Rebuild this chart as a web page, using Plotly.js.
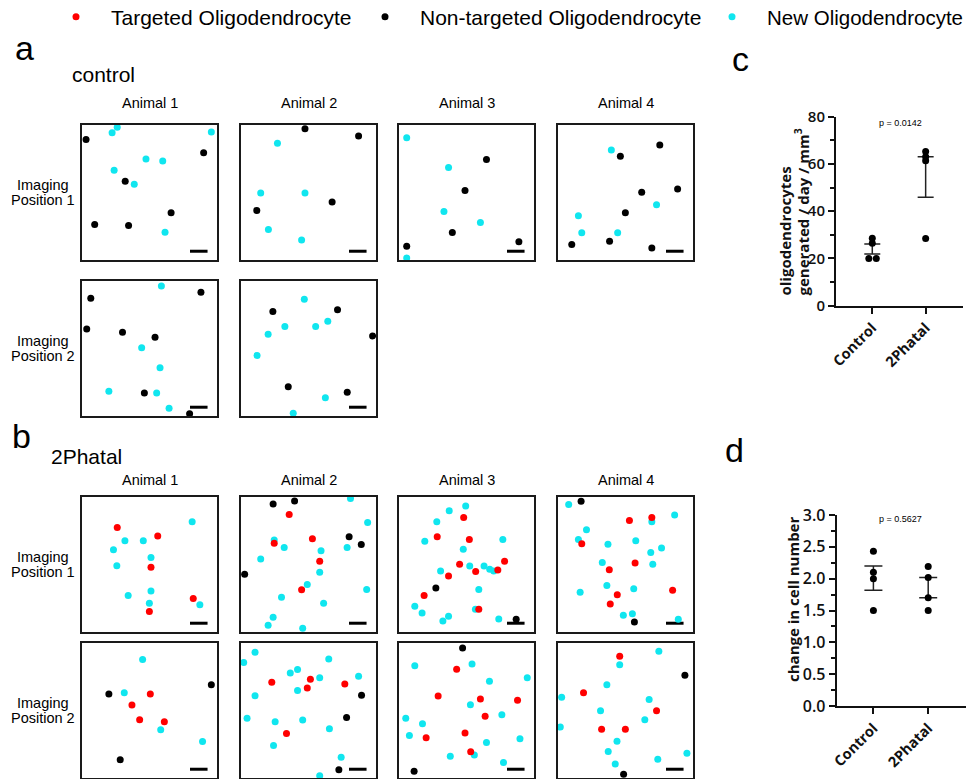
<!DOCTYPE html>
<html><head><meta charset="utf-8">
<script src="https://cdn.plot.ly/plotly-3.0.1.min.js"></script>
<style>html,body{margin:0;padding:0;background:#fff}#chart{width:968px;height:779px}</style>
</head><body><div id="chart"></div>
<script>
// ---------- DATA (positions in each imaging field, 0-100, y measured from top) ----------
// control
const ctrl_a1_p1_non = [[3.0,10.7],[90.1,20.6],[32.0,41.7],[66.0,65.0],[9.4,73.7],[34.5,74.4]];
const ctrl_a1_p1_new = [[26.1,1.7],[22.3,5.7],[95.8,5.2],[47.4,25.1],[59.8,26.6],[23.8,33.5],[38.7,43.9],[61.5,79.4]];
const ctrl_a2_p1_non = [[47.4,2.7],[87.1,8.2],[67.5,57.1],[11.7,63.3]];
const ctrl_a2_p1_new = [[27.0,13.6],[14.6,50.4],[47.4,50.4],[20.3,77.4],[44.9,85.1]];
const ctrl_a3_p1_non = [[64.8,25.6],[48.9,48.6],[39.5,79.7],[5.7,89.8],[88.8,86.4]];
const ctrl_a3_p1_new = [[5.7,9.4],[36.7,31.5],[33.3,64.0],[60.3,72.2],[5.7,98.5]];
const ctrl_a4_p1_non = [[75.4,14.9],[46.2,23.1],[88.6,47.4],[62.0,49.9],[49.9,65.0],[10.2,88.6],[38.2,86.1],[69.5,91.1]];
const ctrl_a4_p1_new = [[39.5,18.6],[73.0,59.1],[15.1,67.2],[17.6,79.9],[44.2,79.9]];
const ctrl_a1_p2_non = [[6.5,12.7],[88.1,8.4],[3.5,35.5],[30.0,38.0],[54.1,41.7],[46.2,82.9],[79.7,98.3]];
const ctrl_a1_p2_new = [[58.8,3.7],[44.2,49.4],[57.8,64.3],[19.9,81.6],[55.3,82.9],[64.5,94.3]];
const ctrl_a2_p2_non = [[23.6,22.6],[71.5,21.3],[97.5,40.7],[35.0,78.4],[78.7,82.4]];
const ctrl_a2_p2_new = [[46.9,13.6],[32.5,33.7],[55.3,33.7],[64.3,29.8],[20.1,39.5],[11.9,55.1],[62.5,86.4],[38.7,98.0]];
// 2Phatal
const ph_a1_p1_tgt = [[26.1,22.6],[56.1,28.8],[51.1,52.1],[82.4,75.2],[49.9,84.9]];
const ph_a1_p1_non = [];
const ph_a1_p1_new = [[81.6,18.4],[31.8,32.5],[45.4,32.5],[23.3,39.0],[51.1,44.9],[25.8,50.9],[51.1,69.7],[34.2,72.9],[49.9,78.7],[87.3,79.9]];
const ph_a2_p1_tgt = [[35.7,12.9],[52.9,31.0],[24.6,34.2],[58.3,47.6],[44.9,68.7]];
const ph_a2_p1_non = [[23.8,5.2],[39.7,3.0],[80.1,29.5],[89.1,35.2],[2.7,57.3]];
const ph_a2_p1_new = [[81.1,1.2],[93.8,18.9],[24.6,31.8],[32.0,37.5],[59.3,39.9],[78.6,37.5],[14.6,45.9],[58.3,55.8],[49.1,64.8],[93.1,68.5],[30.0,74.2],[61.2,78.7],[23.8,89.1],[20.1,95.0],[45.7,97.3]];
const ph_a3_p1_tgt = [[47.9,15.1],[28.3,29.5],[52.1,31.5],[44.9,49.9],[78.2,47.6],[36.7,58.6],[56.8,55.1],[73.2,54.1],[18.6,73.0],[59.1,83.1]];
const ph_a3_p1_non = [[27.3,67.5],[86.8,90.6]];
const ph_a3_p1_new = [[49.4,6.7],[37.2,10.2],[28.0,18.4],[19.1,32.8],[76.9,31.5],[47.6,38.7],[52.4,51.1],[63.0,51.1],[67.2,53.6],[70.2,54.8],[30.8,54.8],[59.1,68.5],[11.7,80.9],[17.1,85.9],[36.7,88.3],[32.5,91.8],[56.6,83.1],[73.9,90.3]];
const ph_a4_p1_tgt = [[52.9,17.4],[69.5,15.1],[17.6,34.7],[57.1,48.9],[38.0,53.8],[84.9,69.0],[43.9,72.5],[38.7,79.2]];
const ph_a4_p1_non = [[17.1,3.2],[56.6,92.6]];
const ph_a4_p1_new = [[7.9,5.5],[86.4,13.4],[69.5,18.4],[21.1,24.3],[15.1,31.5],[37.0,35.0],[57.6,32.5],[68.7,41.2],[76.7,37.7],[32.8,48.6],[70.2,49.9],[36.2,65.5],[16.4,70.5],[56.1,68.0],[48.4,87.6],[55.1,86.4],[89.1,90.6]];
const ph_a1_p2_tgt = [[50.6,37.7],[37.0,45.9],[42.7,56.8],[61.0,58.3]];
const ph_a1_p2_non = [[19.9,37.7],[95.8,31.0],[28.3,86.4]];
const ph_a1_p2_new = [[44.9,12.2],[31.3,36.9],[58.3,64.3],[89.3,73.0]];
const ph_a2_p2_tgt = [[22.8,29.0],[51.4,26.8],[49.1,33.3],[76.9,30.3],[33.7,67.0]];
const ph_a2_p2_non = [[89.3,38.7],[78.2,55.1],[72.5,93.8]];
const ph_a2_p2_new = [[10.4,6.9],[2.0,14.4],[65.0,11.9],[41.9,19.6],[36.5,22.3],[58.3,25.8],[87.1,24.6],[41.9,35.2],[10.4,39.0],[4.5,55.8],[25.3,58.3],[45.7,57.1],[65.5,63.5],[24.1,75.9],[74.2,84.6],[58.3,98.3]];
const ph_a3_p2_tgt = [[42.7,19.4],[29.0,39.2],[60.3,41.4],[87.8,42.4],[63.8,54.3],[48.9,66.7],[20.1,70.2],[53.1,80.6]];
const ph_a3_p2_non = [[47.1,3.7],[11.2,95.0]];
const ph_a3_p2_new = [[11.7,16.9],[54.1,15.6],[67.0,28.3],[95.0,25.8],[52.9,45.7],[76.2,53.1],[5.0,55.8],[17.4,59.8],[7.7,68.5],[64.8,73.7],[89.6,71.0],[38.0,83.9],[55.8,82.9],[77.4,88.6]];
const ph_a4_p2_tgt = [[45.7,9.9],[18.9,36.9],[73.0,50.1],[32.3,63.8],[49.9,63.8]];
const ph_a4_p2_non = [[94.0,23.8],[48.6,97.3]];
const ph_a4_p2_new = [[74.7,6.2],[45.7,16.1],[36.2,31.0],[2.7,40.2],[67.5,41.9],[31.5,50.1],[64.3,56.8],[1.7,62.3],[43.7,72.7],[37.2,80.4],[42.4,89.6],[73.9,86.1],[95.5,81.6]];

// panel c: oligodendrocytes generated / day / mm3
const groups = ['Control', '2Phatal'];
const cControl = [28.5, 26.4, 20.0, 20.0];
const cControlJitter = [0, 0, -0.065, 0.075];
const c2Phatal = [65.3, 63.0, 61.4, 28.4];
const c2PhatalJitter = [0, 0, 0, 0];
const cMean = [24.0, 54.5];
const cSem = [2.1, 8.6];
const cP = 'p = 0.0142';
const cTitle = ['oligodendrocytes', 'generated / day / mm<sup>3</sup>'];
// panel d: change in cell number
const dControl = [2.43, 2.10, 2.00, 1.50];
const d2Phatal = [2.19, 2.02, 1.70, 1.50];
const dMean = [2.01, 1.86];
const dSem = [0.19, 0.16];
const dP = 'p = 0.5627';
const dTitle = 'change in cell number';

const legendNames = ['Targeted Oligodendrocyte', 'Non-targeted Oligodendrocyte', 'New Oligodendrocyte'];
const animalLabels = ['Animal 1', 'Animal 2', 'Animal 3', 'Animal 4'];

// ---------- LAYOUT ----------
const W = 968, H = 779;
const COLORS = {tgt: '#ff0000', non: '#000000', new: '#10e6ef'};
const colLeft = [82, 241, 399, 558];
const rowTop = [125, 281, 497, 643];
const PANEL = 135;
const SCALEBAR = {x0: 80, x1: 93, y: 93.5};
const ARIAL = 'Liberation Sans, Arial, sans-serif';
const SANS = 'Open Sans, Noto Sans, sans-serif';

const panels = [
  {col:0,row:0,tgt:[],non:ctrl_a1_p1_non,nw:ctrl_a1_p1_new},
  {col:1,row:0,tgt:[],non:ctrl_a2_p1_non,nw:ctrl_a2_p1_new},
  {col:2,row:0,tgt:[],non:ctrl_a3_p1_non,nw:ctrl_a3_p1_new},
  {col:3,row:0,tgt:[],non:ctrl_a4_p1_non,nw:ctrl_a4_p1_new},
  {col:0,row:1,tgt:[],non:ctrl_a1_p2_non,nw:ctrl_a1_p2_new},
  {col:1,row:1,tgt:[],non:ctrl_a2_p2_non,nw:ctrl_a2_p2_new},
  {col:0,row:2,tgt:ph_a1_p1_tgt,non:ph_a1_p1_non,nw:ph_a1_p1_new},
  {col:1,row:2,tgt:ph_a2_p1_tgt,non:ph_a2_p1_non,nw:ph_a2_p1_new},
  {col:2,row:2,tgt:ph_a3_p1_tgt,non:ph_a3_p1_non,nw:ph_a3_p1_new},
  {col:3,row:2,tgt:ph_a4_p1_tgt,non:ph_a4_p1_non,nw:ph_a4_p1_new},
  {col:0,row:3,tgt:ph_a1_p2_tgt,non:ph_a1_p2_non,nw:ph_a1_p2_new},
  {col:1,row:3,tgt:ph_a2_p2_tgt,non:ph_a2_p2_non,nw:ph_a2_p2_new},
  {col:2,row:3,tgt:ph_a3_p2_tgt,non:ph_a3_p2_non,nw:ph_a3_p2_new},
  {col:3,row:3,tgt:ph_a4_p2_tgt,non:ph_a4_p2_non,nw:ph_a4_p2_new}
];

const traces = [];
const layout = {
  width: W, height: H, margin: {l:0, r:0, t:0, b:0, pad: 0, autoexpand: false},
  paper_bgcolor: '#fff', plot_bgcolor: '#fff',
  font: {family: ARIAL, color: '#000'},
  annotations: [], shapes: []
};
const xd = (a, b) => [a / W, b / W];
const yd = (top, bot) => [1 - bot / H, 1 - top / H];
let legendShown = {tgt:false, non:false, nw:false};
const legendOf = {tgt: 'legend', non: 'legend2', nw: 'legend3'};
const nameOf = {tgt: legendNames[0], non: legendNames[1], nw: legendNames[2]};
const colorOf = {tgt: COLORS.tgt, non: COLORS.non, nw: COLORS.new};

panels.forEach((p, i) => {
  const n = i + 1, sfx = n === 1 ? '' : String(n);
  const left = colLeft[p.col], top = rowTop[p.row];
  const axBase = {showline: true, mirror: true, linewidth: 1.8, linecolor: '#1a1a1a',
    showgrid: false, zeroline: false, showticklabels: false, ticks: '', fixedrange: true};
  layout['xaxis' + sfx] = Object.assign({}, axBase, {domain: xd(left, left + PANEL), range: [0, 100], anchor: 'y' + sfx});
  layout['yaxis' + sfx] = Object.assign({}, axBase, {domain: yd(top, top + PANEL), range: [100, 0], anchor: 'x' + sfx});
  ['nw', 'non', 'tgt'].forEach(k => {
    const pts = p[k];
    if (!pts.length) return;
    const show = !legendShown[k];
    legendShown[k] = true;
    traces.push({
      type: 'scatter', mode: 'markers', x: pts.map(q => q[0]), y: pts.map(q => q[1]),
      xaxis: 'x' + sfx, yaxis: 'y' + sfx, name: nameOf[k], legend: legendOf[k],
      legendgroup: k, showlegend: show, hoverinfo: 'skip',
      marker: {color: colorOf[k], size: 7, line: {width: 0}}
    });
  });
  layout.shapes.push({type: 'line', xref: 'x' + sfx, yref: 'y' + sfx, layer: 'below',
    x0: SCALEBAR.x0, x1: SCALEBAR.x1, y0: SCALEBAR.y, y1: SCALEBAR.y, line: {color: '#000', width: 3}});
});

// legends
const legBase = {orientation: 'h', xanchor: 'left', yanchor: 'middle', y: 1 - 17 / H,
  font: {family: ARIAL, size: 21, color: '#000'}, itemwidth: 60, bgcolor: 'rgba(0,0,0,0)', borderwidth: 0};
layout.legend = Object.assign({}, legBase, {x: 41 / W});
layout.legend2 = Object.assign({}, legBase, {x: 350 / W});
layout.legend3 = Object.assign({}, legBase, {x: 697 / W, font: {family: ARIAL, size: 20.5, color: '#000'}});

// ---------- panel c & d ----------
function statPanel(idx, xDom, yDom, xRange, yRange, dtick, minorDtick, tickFmt, tickSize, ctrl, ctrlJit, ph, phJit, mean, sem, capW) {
  const sfx = String(idx);
  traces.push({type: 'scatter', mode: 'markers', xaxis: 'x' + sfx, yaxis: 'y' + sfx, showlegend: false, hoverinfo: 'skip',
    x: groups.map((g, i) => i), y: mean, marker: {size: 1, color: 'rgba(0,0,0,0)'},
    error_y: {type: 'data', array: sem, visible: true, color: '#222', thickness: 1.5, width: capW}, cliponaxis: false});
  traces.push({type: 'scatter', mode: 'markers', xaxis: 'x' + sfx, yaxis: 'y' + sfx, showlegend: false, hoverinfo: 'skip',
    x: ctrlJit.map(j => 0 + j), y: ctrl, marker: {size: 7, color: '#000'}, cliponaxis: false});
  traces.push({type: 'scatter', mode: 'markers', xaxis: 'x' + sfx, yaxis: 'y' + sfx, showlegend: false, hoverinfo: 'skip',
    x: phJit.map(j => 1 + j), y: ph, marker: {size: 7, color: '#000'}, cliponaxis: false});
  layout['xaxis' + sfx] = {domain: xDom, range: xRange, anchor: 'y' + sfx, tickvals: [0, 1], ticktext: groups,
    tickangle: -45, ticks: 'outside', ticklen: 6, tickwidth: 2, tickcolor: '#111', showline: true, linewidth: 2, linecolor: '#111',
    showgrid: false, zeroline: false, fixedrange: true,
    tickfont: {family: SANS, size: 14.5, weight: 700, color: '#111'}};
  layout['yaxis' + sfx] = {domain: yDom, range: yRange, anchor: 'x' + sfx, dtick: dtick, tick0: 0, tickformat: tickFmt,
    ticks: 'outside', ticklen: 6, tickwidth: 2, tickcolor: '#111', showline: true, linewidth: 2, linecolor: '#111',
    minor: {dtick: minorDtick, ticks: 'outside', ticklen: 4, tickwidth: 2, tickcolor: '#111', showgrid: false},
    showgrid: false, zeroline: false, fixedrange: true,
    tickfont: {family: SANS, size: tickSize, weight: 600, color: '#111'}};
}
statPanel(17, xd(836, 963), yd(116.7, 305.7), [-0.68, 1.7], [0, 80], 20, 10, 'd', 15,
  cControl, cControlJitter, c2Phatal, c2PhatalJitter, cMean, cSem, 8);
statPanel(18, xd(836.7, 966), yd(515, 706), [-0.67, 1.69], [0, 3], 0.5, 0.25, '.1f', 16,
  dControl, [0, 0, 0, 0], d2Phatal, [0, 0, 0, 0], dMean, dSem, 9);

// ---------- annotations ----------
function ann(text, x, y, size, xanchor, extra) {
  layout.annotations.push(Object.assign({text: text, x: x / W, y: 1 - y / H, xref: 'paper', yref: 'paper',
    showarrow: false, xanchor: xanchor || 'left', yanchor: 'middle',
    font: {family: ARIAL, size: size, color: '#000'}}, extra || {}));
}
ann('a', 13, 48, 34);
ann('b', 10, 436, 34);
ann('c', 730, 59, 34);
ann('d', 723, 450, 34);
ann('control', 70, 74.5, 21);
ann('2Phatal', 49, 456, 21);
colLeft.forEach((l, i) => {
  ann(animalLabels[i], l + PANEL / 2, 103, 14.5, 'center');
  ann(animalLabels[i], l + PANEL / 2, 480, 14.5, 'center');
});
[[185, 200, '1'], [341, 356, '2'], [557, 572, '1'], [703, 718, '2']].forEach(r => {
  ann('Imaging', 43, r[0], 14.5, 'center');
  ann('Position ' + r[2], 43, r[1], 14.5, 'center');
});
ann(cP, 900, 123, 9, 'center');
ann(dP, 900, 519, 9, 'center');
// rotated axis titles (lines start at the same bottom point, as in the figure)
const titleFont = {family: SANS, size: 15, weight: 700, color: '#111'};
ann(cTitle[0], 784, 298, 15, 'center', {textangle: -90, yanchor: 'bottom', font: titleFont});
ann(cTitle[1], 802, 298, 15, 'center', {textangle: -90, yanchor: 'bottom', font: titleFont});
ann(dTitle, 793, 600, 15, 'center', {textangle: -90, font: titleFont});

Plotly.newPlot('chart', traces, layout, {staticPlot: true, displayModeBar: false});
</script></body></html>
